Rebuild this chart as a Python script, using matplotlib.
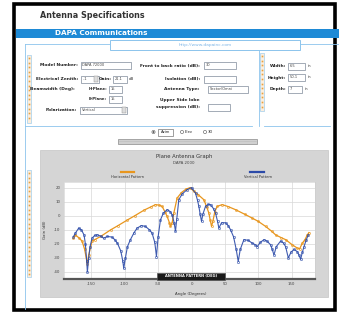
import matplotlib
matplotlib.use("Agg")
import matplotlib.pyplot as plt
from matplotlib.patches import Rectangle, Circle

# ---------------- data ----------------
h_angle = [-177, -174, -168, -164, -160, -157, -156, -154, -149, -145, -136, -121, -110, -96, -85,
           -71, -60, -54, -48, -44, -40, -36.5, -33, -31.5, -29, -26.5, -21.5, -15, -8, -2,
           3.5, 10, 18.5, 23, 26, 28, 30, 32, 35, 38.5, 46, 55, 66, 80, 91, 100, 111, 120,
           126, 134, 141, 151, 158.5, 162, 166, 170, 173.5, 176]
h_gain = [-16, -13.6, -16, -18, -24, -32, -34, -28, -18, -17, -14.7, -10, -7, -3, 0,
          4, 6.5, 7.9, 7.5, 6.6, 3, -0.5, -5, -7.6, -5, 1.9, 12.6, 16.5, 19, 20,
          17.4, 15, 11.4, 6, 1.9, -3, -7.6, -4, 3, 6.7, 7.9, 6.5, 4.3, 1, -1.7, -4, -7.6, -11,
          -13.6, -15.5, -17, -20.7, -23, -23.5, -19.5, -17, -13.6, -12]

v_angle = [-177, -174, -169, -165, -161, -159, -157, -156, -154, -152, -149, -145, -141, -136,
           -131.5, -126, -119, -115, -111, -106, -103, -101.5, -99, -96, -91.5, -86, -81.5, -75,
           -69, -63, -59, -55, -52.5, -50, -46.5, -42, -36.5, -32, -29, -26, -24, -22, -19, -14,
           -6.5, 0, 6, 9, 11, 13, 15, 17, 21, 25, 28.5, 33, 36, 39, 41, 45, 51, 55, 58.5, 63, 67,
           70, 73, 78.5, 85, 91, 95, 98.5, 103, 108.5, 113, 118.5, 121, 123.5, 127, 133.5, 138,
           141, 145, 149, 153.5, 158.5, 161, 163.5, 166, 168.5, 172, 175]
v_gain = [-15, -12.4, -8.8, -10, -13.6, -20, -32, -40, -30, -22, -16, -14, -13.6, -14.5,
          -16, -14.7, -15.2, -17, -19.5, -25, -32, -37.4, -30, -22, -17, -12, -8.8, -7,
          -7.6, -10, -12.4, -19, -29, -15, -2.9, 2, 4.3, 3, 0.7, -5, -11, -2, 11.4, 15.5,
          18.6, 20, 16, 11, 6.7, 1, -4, 1, 6.7, 8, 7.9, 5, 1.9, -4, -8.8, -5, -5, -7, -10, -15, -24,
          -32.6, -24, -17, -17.5, -19.5, -20.5, -21.9, -19, -17, -18, -20.7, -24, -27.9, -22, -18, -19.5,
          -22, -30, -26, -24, -25.5, -28, -31, -26, -22, -17, -13.6]

x_ticks = [-150, -100, -50, 0, 50, 100, 150]
y_ticks = [20, 10, 0, -10, -20, -30, -40]

W, H = 339, 312
fig = plt.figure(figsize=(W / 100, H / 100), dpi=100)
fig.patch.set_facecolor("white")

ui = fig.add_axes([0, 0, 1, 1], zorder=0)
ui.set_xlim(0, W)
ui.set_ylim(H, 0)
ui.axis("off")

LB = "#8cc4ec"      # light blue panel lines
BOX = "#7f8a9a"
TXT = "#222222"
ORG = "#e8a040"

def box(x, y, w, h, text=None, arrow=False):
    ui.add_patch(Rectangle((x, y), w, h, fc="white", ec=BOX, lw=0.5, zorder=3))
    if text:
        ui.text(x + 1.5, y + h / 2, text, fontsize=2.6, color="#444444", va="center", ha="left", zorder=4)
    if arrow:
        ui.add_patch(Rectangle((x + w - 5, y + 0.8), 4.2, h - 1.6, fc="#dddddd", ec="#888888", lw=0.3, zorder=4))

def label(x, y, s, ha="right", fs=3.2):
    ui.text(x, y, s, fontsize=fs, color=TXT, ha=ha, va="center", fontweight="bold", zorder=4)

# outer black frame
ui.add_patch(Rectangle((14, 4), 320.5, 305.5, fc="white", ec="black", lw=2.6, zorder=1))

# title
ui.text(40, 15, "Antenna Specifications", fontsize=5.8, fontweight="bold", color="#333333",
        ha="left", va="center", zorder=4)
# blue banner
ui.add_patch(Rectangle((15.5, 29), 323.5, 8.5, fc="#1e8ad6", ec="none", zorder=2))
ui.text(55, 33.3, "DAPA Communications", fontsize=5.2, fontweight="bold", color="white",
        ha="left", va="center", zorder=4)

# panel lines
ui.plot([25, 339], [43.5, 43.5], color=LB, lw=0.6, zorder=2)
ui.plot([25, 25], [43.5, 309], color=LB, lw=0.6, zorder=2)
ui.plot([25, 252], [126, 126], color=LB, lw=0.6, zorder=2)
ui.plot([258.5, 258.5], [43.5, 126], color=LB, lw=0.6, zorder=2)
ui.plot([264, 330], [126, 126], color=LB, lw=0.6, zorder=2)
# url box
ui.add_patch(Rectangle((110, 39.5), 190, 10.5, fc="white", ec=LB, lw=0.7, zorder=3))
ui.text(205, 45, "http://www.dapainc.com", fontsize=3.2, color="#7fb6e6", ha="center", va="center", zorder=4)

# orange side strips
for (sx, sy0, sy1) in [(26.5, 55, 123), (26.5, 170, 277), (259.5, 53, 111)]:
    ui.add_patch(Rectangle((sx, sy0), 4.5, sy1 - sy0, fc="#fbeede", ec=LB, lw=0.4, zorder=2))
    yy = sy0 + 3
    while yy < sy1 - 2:
        ui.plot([sx + 2.25], [yy], marker="s", ms=1.2, color=ORG, mec="none", zorder=3)
        yy += 4.6

# left column of the form
label(78, 65.5, "Model Number:")
box(81, 62, 50, 7, "DAPA 72000")
label(78, 79, "Electrical Zenith:")
box(81, 75.5, 18, 7, " -1", arrow=True)
label(112, 79, "Gain:")
box(113, 75.5, 14, 7, "21.1")
ui.text(129, 79, "dB", fontsize=2.8, color=TXT, ha="left", va="center", zorder=4)
label(75, 89, "Beamwidth (Deg):")
label(107, 89, "H-Plane:", fs=2.8)
box(109, 85.5, 13, 7, "15")
label(107, 99, "E-Plane:", fs=2.8)
box(109, 95.5, 13, 7, "15")
label(77, 110, "Polarization:")
box(80, 106.5, 47, 7, "Vertical", arrow=True)

# middle column
label(200, 65.5, "Front to back ratio (dB):")
box(204, 62, 32, 7, "30")
label(200, 79, "Isolation (dB):")
box(204, 75.5, 32, 7)
label(200, 89, "Antenna Type:")
box(208, 85.5, 40, 7, "Sector/Omni")
label(200, 100.5, "Upper Side lobe")
label(200, 107, "suppression (dB):")
box(208, 103.5, 22, 7)

# right column
label(286, 66, "Width:")
box(288, 62.5, 17, 7, "6.5")
ui.text(308, 66, "in", fontsize=2.8, color=TXT, ha="left", va="center", zorder=4)
label(286, 77.5, "Height:")
box(288, 74, 17, 7, "50.1")
ui.text(308, 77.5, "in", fontsize=2.8, color=TXT, ha="left", va="center", zorder=4)
label(286, 89, "Depth:")
box(288, 85.5, 14, 7, "7")
ui.text(305, 89, "in", fontsize=2.8, color=TXT, ha="left", va="center", zorder=4)

# radio buttons + slider
ui.add_patch(Circle((153.5, 132), 1.6, fc="white", ec="#555555", lw=0.4, zorder=4))
ui.add_patch(Circle((153.5, 132), 0.8, fc="#333333", ec="none", zorder=5))
ui.add_patch(Rectangle((158, 128.5), 15, 7, fc="white", ec="#555555", lw=0.4, zorder=4))
ui.text(165.5, 132, "Azim", fontsize=2.7, color=TXT, ha="center", va="center", zorder=5)
ui.add_patch(Circle((182, 132), 1.6, fc="white", ec="#555555", lw=0.4, zorder=4))
ui.text(185, 132, "Elev", fontsize=2.7, color=TXT, ha="left", va="center", zorder=5)
ui.add_patch(Circle((205, 132), 1.6, fc="white", ec="#555555", lw=0.4, zorder=4))
ui.text(208, 132, "3D", fontsize=2.7, color=TXT, ha="left", va="center", zorder=5)
ui.add_patch(Rectangle((118, 139), 139, 4.5, fc="#d0d0d0", ec="#8a8a8a", lw=0.5, zorder=4))
ui.plot([119, 256], [141.2, 141.2], color="#a8a8a8", lw=0.4, ls=(0, (1, 1)), zorder=5)

# chart gray panel
ui.add_patch(Rectangle((40, 150), 288, 147, fc="#d5d5d5", ec="#c4c4c4", lw=0.5, zorder=2))
ui.text(184, 156.5, "Plane Antenna Graph", fontsize=3.8, color="#333333", ha="center", va="center", zorder=4)
ui.text(184, 162.5, "DAPA 2000", fontsize=2.8, color="#444444", ha="center", va="center", zorder=4)
# legend
HC = "#e8961e"
VC = "#2b4aa8"
ui.plot([121, 134], [172, 172], color=HC, lw=1.6, zorder=4)
ui.text(127, 177.5, "Horizontal Pattern", fontsize=2.6, color="#333333", ha="center", va="center", zorder=4)
ui.plot([250, 264], [172, 172], color=VC, lw=1.6, zorder=4)
ui.text(258, 177.5, "Vertical Pattern", fontsize=2.6, color="#333333", ha="center", va="center", zorder=4)
ui.text(45, 230, "Gain (dB)", fontsize=2.8, color="#333333", rotation=90, ha="center", va="center", zorder=4)
ui.text(191, 293.5, "Angle (Degrees)", fontsize=2.8, color="#333333", ha="center", va="center", zorder=4)

# ---------------- chart ----------------
L, R, T, B = 64, 315, 182, 279
ax = fig.add_axes([L / W, 1 - B / H, (R - L) / W, (B - T) / H], zorder=2)
ax.set_facecolor("white")
ax.plot(h_angle, h_gain, color=HC, lw=0.9, marker="o", ms=1.5, mfc="none", mew=0.45, zorder=3)
ax.plot(v_angle, v_gain, color=VC, lw=0.8, marker="o", ms=1.6, mfc="none", mew=0.45, alpha=0.9, zorder=4)
ax.set_xlim(-191, 185)
ax.set_ylim(-45, 24)
ax.set_xticks(x_ticks)
ax.set_yticks(y_ticks)
ax.set_xticklabels([str(v) for v in x_ticks])
ax.set_yticklabels([str(v) for v in y_ticks])
ax.tick_params(axis="both", labelsize=2.8, length=0, pad=2.5, colors="#444444")
ax.grid(True, color="#d8d8d8", lw=0.5)
ax.set_axisbelow(True)
for s in ["top", "right", "left"]:
    ax.spines[s].set_color("#cccccc")
    ax.spines[s].set_linewidth(0.4)
ax.spines["bottom"].set_color("#555555")
ax.spines["bottom"].set_linewidth(1.6)

# overlay: black label box on the axis
top = fig.add_axes([0, 0, 1, 1], zorder=5)
top.set_xlim(0, W)
top.set_ylim(H, 0)
top.axis("off")
top.patch.set_alpha(0)
top.add_patch(Rectangle((157, 273), 68, 6.5, fc="#1a1a1a", ec="#555555", lw=0.5))
top.text(191, 276.3, "ANTENNA PATTERN (DEG)", fontsize=2.6, color="white", fontweight="bold",
         ha="center", va="center")

fig.savefig("out.png", dpi=100, facecolor="white")
